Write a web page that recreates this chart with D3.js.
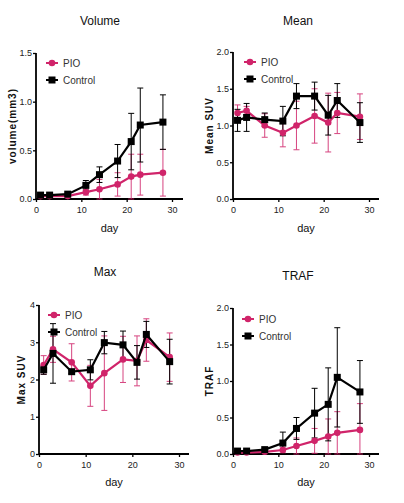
<!DOCTYPE html>
<html><head><meta charset="utf-8">
<script src="https://cdn.jsdelivr.net/npm/d3@7"></script>
<style>
body{margin:0;background:#fff;}
text{font-family:"Liberation Sans Narrow","Arial Narrow","Liberation Sans",Arial,sans-serif;}
</style></head>
<body><svg id="c" width="404" height="503"></svg>
<script>
const days = [1, 3, 7, 11, 14, 18, 21, 23, 28];
const seriesNames = ["PIO", "Control"];
const titles = ["Volume", "Mean", "Max", "TRAF"];
const yLabels = ["volume(mm3)", "Mean SUV", "Max SUV", "TRAF"];
const xTicks = [0, 10, 20, 30];
const yTicksVolume = [0.0, 0.5, 1.0, 1.5];
const yTicksMean = [0.0, 0.5, 1.0, 1.5, 2.0];
const yTicksMax = [0, 1, 2, 3, 4];
const yTicksTraf = [0.0, 0.5, 1.0, 1.5, 2.0];

const volumePIO = [0.03, 0.03, 0.03, 0.07, 0.10, 0.15, 0.23, 0.25, 0.27];
const volumePIOErr = [0.01, 0.01, 0.01, 0.03, 0.10, 0.12, 0.23, 0.21, 0.24];
const volumeCtrl = [0.04, 0.04, 0.05, 0.14, 0.25, 0.39, 0.59, 0.76, 0.79];
const volumeCtrlErr = [0.01, 0.01, 0.01, 0.05, 0.08, 0.17, 0.29, 0.38, 0.28];

const meanPIO = [1.17, 1.20, 1.00, 0.90, 1.00, 1.13, 1.04, 1.17, 1.12];
const meanPIOErr = [0.11, 0.06, 0.16, 0.19, 0.33, 0.37, 0.40, 0.28, 0.31];
const meanCtrl = [1.07, 1.11, 1.08, 1.06, 1.40, 1.40, 1.14, 1.34, 1.04];
const meanCtrlErr = [0.15, 0.19, 0.09, 0.20, 0.17, 0.19, 0.27, 0.23, 0.27];

const maxPIO = [2.39, 2.81, 2.46, 1.83, 2.17, 2.54, 2.50, 3.06, 2.60];
const maxPIOErr = [0.25, 0.35, 0.50, 0.55, 1.00, 0.62, 0.67, 0.57, 0.65];
const maxCtrl = [2.26, 2.70, 2.21, 2.26, 2.99, 2.93, 2.46, 3.21, 2.48];
const maxCtrlErr = [0.12, 0.80, 0.05, 0.27, 0.30, 0.37, 0.45, 0.35, 0.60];

const trafPIO = [0.02, 0.02, 0.03, 0.055, 0.11, 0.18, 0.24, 0.29, 0.33];
const trafPIOErr = [0.01, 0.01, 0.01, 0.04, 0.11, 0.17, 0.24, 0.29, 0.36];
const trafCtrl = [0.04, 0.04, 0.06, 0.15, 0.35, 0.56, 0.68, 1.05, 0.85];
const trafCtrlErr = [0.01, 0.01, 0.01, 0.15, 0.15, 0.34, 0.50, 0.68, 0.43];

const PINK = "#d0246a", BLACK = "#000";
const svg = d3.select("#c");

const panels = [
  {title: titles[0], ylab: yLabels[0], yt: yTicksVolume, fmt: d3.format(".1f"), ymax: 1.5,
   pio: volumePIO, pioE: volumePIOErr, ctl: volumeCtrl, ctlE: volumeCtrlErr,
   x0: 36, x1: 172, xe: 183, yTop: 53, yBot: 199, titleX: 100, titleY: 25, dayY: 232, ylx: 16, leg: [52, 63]},
  {title: titles[1], ylab: yLabels[1], yt: yTicksMean, fmt: d3.format(".1f"), ymax: 2.0,
   pio: meanPIO, pioE: meanPIOErr, ctl: meanCtrl, ctlE: meanCtrlErr,
   x0: 233, x1: 369, xe: 379, yTop: 52, yBot: 199, titleX: 298, titleY: 25, dayY: 232, ylx: 213, leg: [250, 62]},
  {title: titles[2], ylab: yLabels[2], yt: yTicksMax, fmt: d3.format("d"), ymax: 4,
   pio: maxPIO, pioE: maxPIOErr, ctl: maxCtrl, ctlE: maxCtrlErr,
   x0: 39, x1: 179, xe: 189, yTop: 305, yBot: 454, titleX: 105, titleY: 276, dayY: 486, ylx: 25, leg: [54, 315]},
  {title: titles[3], ylab: yLabels[3], yt: yTicksTraf, fmt: d3.format(".1f"), ymax: 2.0,
   pio: trafPIO, pioE: trafPIOErr, ctl: trafCtrl, ctlE: trafCtrlErr,
   x0: 233, x1: 369, xe: 379, yTop: 308, yBot: 454, titleX: 298, titleY: 280, dayY: 486, ylx: 213, leg: [248, 319]}
];

panels.forEach(p => {
  const g = svg.append("g");
  const x = d3.scaleLinear().domain([0, 30]).range([p.x0, p.x1]);
  const y = d3.scaleLinear().domain([0, p.ymax]).range([p.yBot, p.yTop]);

  g.append("text").attr("x", p.titleX).attr("y", p.titleY)
    .attr("text-anchor", "middle").attr("font-size", 12).attr("fill", "#111").text(p.title);

  const xa = g.append("g").attr("transform", `translate(0,${p.yBot})`)
    .call(d3.axisBottom(x).tickValues(xTicks).tickSize(3).tickFormat(d3.format("d")));
  xa.select(".domain").attr("d", `M${p.x0},0H${p.xe}`).attr("stroke-width", 1.8);
  xa.selectAll(".tick line").attr("stroke-width", 1.3);
  xa.selectAll("text").attr("font-size", 9).attr("fill", "#222").attr("dy", "0.9em");

  const ya = g.append("g").attr("transform", `translate(${p.x0},0)`)
    .call(d3.axisLeft(y).tickValues(p.yt).tickSize(3).tickFormat(p.fmt));
  ya.select(".domain").attr("d", `M0,${p.yTop}V${p.yBot}`).attr("stroke-width", 1.8);
  ya.selectAll(".tick line").attr("stroke-width", 1.3);
  ya.selectAll("text").attr("font-size", 9).attr("fill", "#222").attr("x", -4);

  g.append("text").attr("x", (p.x0 + p.xe) / 2).attr("y", p.dayY)
    .attr("text-anchor", "middle").attr("font-size", 11).attr("fill", "#111").text("day");
  g.append("text").attr("transform", `translate(${p.ylx},${(p.yTop + p.yBot) / 2}) rotate(-90)`)
    .attr("text-anchor", "middle").attr("font-size", 10).attr("font-weight", "bold")
    .attr("letter-spacing", 1).attr("fill", "#111").style("font-family", "Liberation Sans, Arial, sans-serif").text(p.ylab);

  const line = d3.line().x((d, i) => x(days[i])).y(d => y(d));
  const series = [
    {v: p.pio, e: p.pioE, c: PINK, shape: "circle"},
    {v: p.ctl, e: p.ctlE, c: BLACK, shape: "square"}
  ];
  series.forEach(s => {
    const eb = g.append("g").attr("stroke", s.c).attr("stroke-width", 1).attr("opacity", s.c === PINK ? 0.85 : 1);
    s.v.forEach((v, i) => {
      const cx = x(days[i]);
      const lo = Math.max(0, v - s.e[i]), hi = v + s.e[i];
      eb.append("line").attr("x1", cx).attr("x2", cx).attr("y1", y(lo)).attr("y2", y(hi));
      eb.append("line").attr("x1", cx - 3).attr("x2", cx + 3).attr("y1", y(hi)).attr("y2", y(hi));
      eb.append("line").attr("x1", cx - 3).attr("x2", cx + 3).attr("y1", y(lo)).attr("y2", y(lo));
    });
  });
  series.forEach(s => {
    g.append("path").datum(s.v).attr("d", line).attr("fill", "none")
      .attr("stroke", s.c).attr("stroke-width", 2.2);
    s.v.forEach((v, i) => {
      const cx = x(days[i]), cy = y(v);
      if (s.shape === "circle") g.append("circle").attr("cx", cx).attr("cy", cy).attr("r", 3.3).attr("fill", s.c);
      else g.append("rect").attr("x", cx - 3.5).attr("y", cy - 3.5).attr("width", 7).attr("height", 7).attr("fill", s.c);
    });
  });

  const [lx, ly] = p.leg;
  seriesNames.forEach((nm, i) => {
    const s = series[i];
    const yy = ly + i * 17;
    g.append("line").attr("x1", lx - 6).attr("x2", lx + 6).attr("y1", yy).attr("y2", yy)
      .attr("stroke", s.c).attr("stroke-width", 2);
    if (s.shape === "circle") g.append("circle").attr("cx", lx).attr("cy", yy).attr("r", 3.3).attr("fill", s.c);
    else g.append("rect").attr("x", lx - 3.5).attr("y", yy - 3.5).attr("width", 7).attr("height", 7).attr("fill", s.c);
    g.append("text").attr("x", lx + 11).attr("y", yy + 3.5).attr("font-size", 10).attr("fill", "#333").text(nm);
  });
});
</script></body></html>
